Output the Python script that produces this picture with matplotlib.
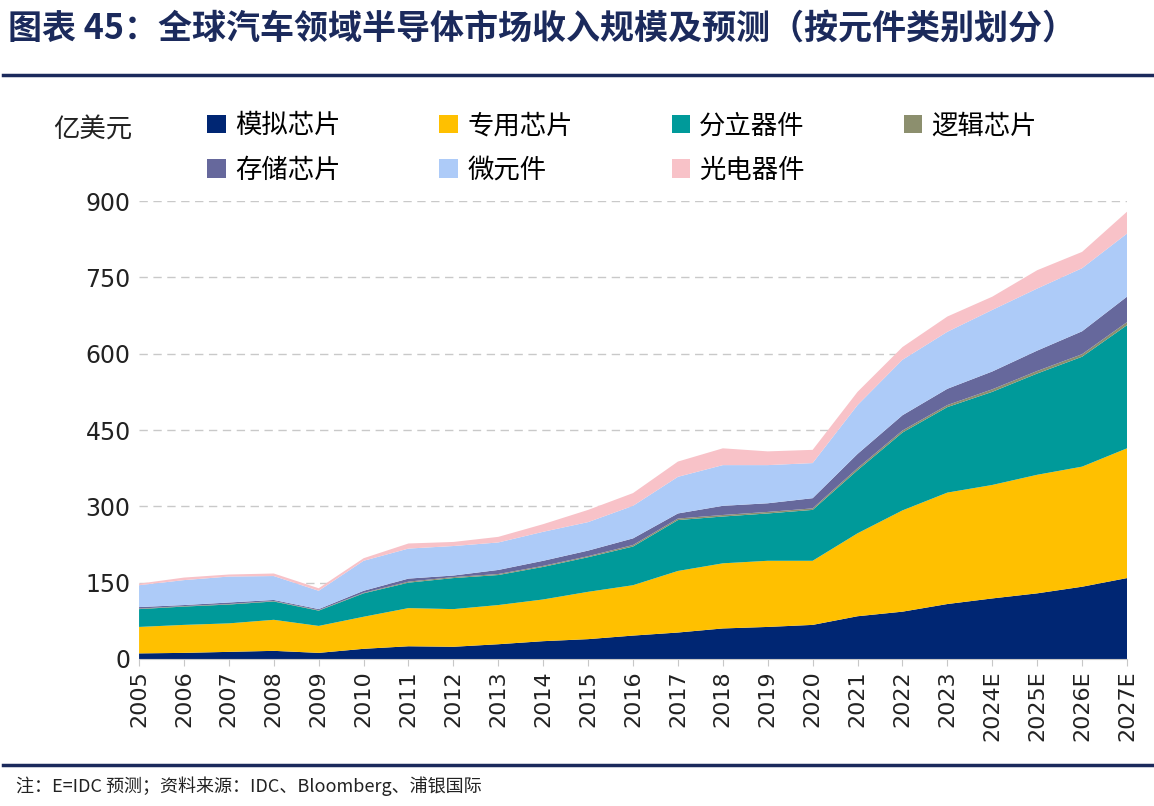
import numpy as np
import matplotlib.pyplot as plt
from matplotlib.patches import Patch

plt.rcParams['font.family'] = ['Noto Sans CJK SC', 'DejaVu Sans']

years = ['2005', '2006', '2007', '2008', '2009', '2010', '2011', '2012',
         '2013', '2014', '2015', '2016', '2017', '2018', '2019', '2020',
         '2021', '2022', '2023', '2024E', '2025E', '2026E', '2027E']

# 亿美元
analog   = [11, 12, 14, 16, 12, 20, 25, 24, 29, 35, 39, 46, 52, 60, 63, 67, 84, 93, 108, 119, 129, 142, 159]
asic     = [52, 55, 56, 61, 53, 63, 75, 74, 77, 82, 93, 99, 121, 128, 130, 126, 163, 199, 219, 223, 233, 236, 255]
discrete = [35, 36, 37, 36, 30, 46, 50, 61, 59, 64, 68, 76, 100, 92, 93, 100, 124, 153, 168, 183, 199, 216, 242]
logic    = [1, 1, 1, 1, 1, 1, 2, 2, 2, 2, 2, 3, 3, 3, 3, 3, 4, 4, 4, 5, 5, 5, 6]
memory   = [3, 2, 3, 2, 2, 4, 6, 3, 8, 10, 11, 13, 10, 18, 17, 20, 28, 30, 32, 35, 40, 45, 50]
micro    = [43, 49, 51, 47, 36, 59, 59, 58, 54, 57, 56, 64, 72, 80, 75, 69, 96, 109, 112, 121, 122, 124, 124]
opto     = [3, 5, 4, 5, 5, 5, 10, 8, 11, 15, 24, 25, 30, 33, 27, 26, 26, 25, 30, 26, 36, 32, 43]

labels = ['模拟芯片', '专用芯片', '分立器件', '逻辑芯片', '存储芯片', '微元件', '光电器件']
colors = ['#002673', '#FFC000', '#009A9A', '#8C8F6E', '#66689C', '#ADCBF8', '#F8C2C8']

fig = plt.figure(figsize=(11.54, 8.06), dpi=100)
ax = fig.add_axes([0.1205, 0.1824, 0.8561, 0.5682])

x = np.arange(len(years))
ax.stackplot(x, analog, asic, discrete, logic, memory, micro, opto,
             colors=colors, linewidth=0)

ax.set_xlim(0, len(years) - 1)
ax.set_ylim(0, 900)
ax.set_yticks([0, 150, 300, 450, 600, 750, 900])
ax.set_xticks(x)
ax.set_xticklabels(years, rotation=90, fontsize=16, family='DejaVu Sans', color='#222222')
ax.tick_params(axis='y', length=0, pad=6, labelsize=17, labelcolor='#222222')
ax.tick_params(axis='x', length=5, color='#c8c8c8', pad=3)
for lb in ax.get_yticklabels():
    lb.set_family('DejaVu Sans')
ax.yaxis.grid(True, linestyle=(0, (6, 4)), color='#c9c9c9', linewidth=1)
ax.set_axisbelow(True)
for s in ['top', 'right', 'left']:
    ax.spines[s].set_visible(False)
ax.spines['bottom'].set_color('#c8c8c8')

# title and rules
fig.text(0.007, 0.965, '图表 45：全球汽车领域半导体市场收入规模及预测（按元件类别划分）',
         fontsize=24.5, fontweight='bold', color='#1B2A5C', va='center', ha='left')
fig.add_artist(plt.Line2D([0.003, 1.0], [0.907, 0.907], color='#1B2A5C', linewidth=2.5))
fig.add_artist(plt.Line2D([0.003, 1.0], [0.051, 0.051], color='#1B2A5C', linewidth=2.5))
fig.text(0.014, 0.025, '注：E=IDC 预测；资料来源：IDC、Bloomberg、浦银国际',
         fontsize=13, color='#222222', va='center', ha='left')

fig.text(0.046, 0.838, '亿美元', fontsize=19, color='#222222', va='center', ha='left')

# legend fills column by column, so order for two rows of four
order = [0, 4, 1, 5, 2, 6, 3]
handles = [Patch(facecolor=colors[i], edgecolor='none') for i in order]
fig.legend(handles, [labels[i] for i in order], ncol=4, loc='upper left',
           bbox_to_anchor=(0.159, 0.89),
           frameon=False, fontsize=19, handlelength=0.7, handleheight=0.7,
           handletextpad=0.35, columnspacing=3.75, labelspacing=0.65)

fig.savefig('out.png', dpi=100, facecolor='white')
